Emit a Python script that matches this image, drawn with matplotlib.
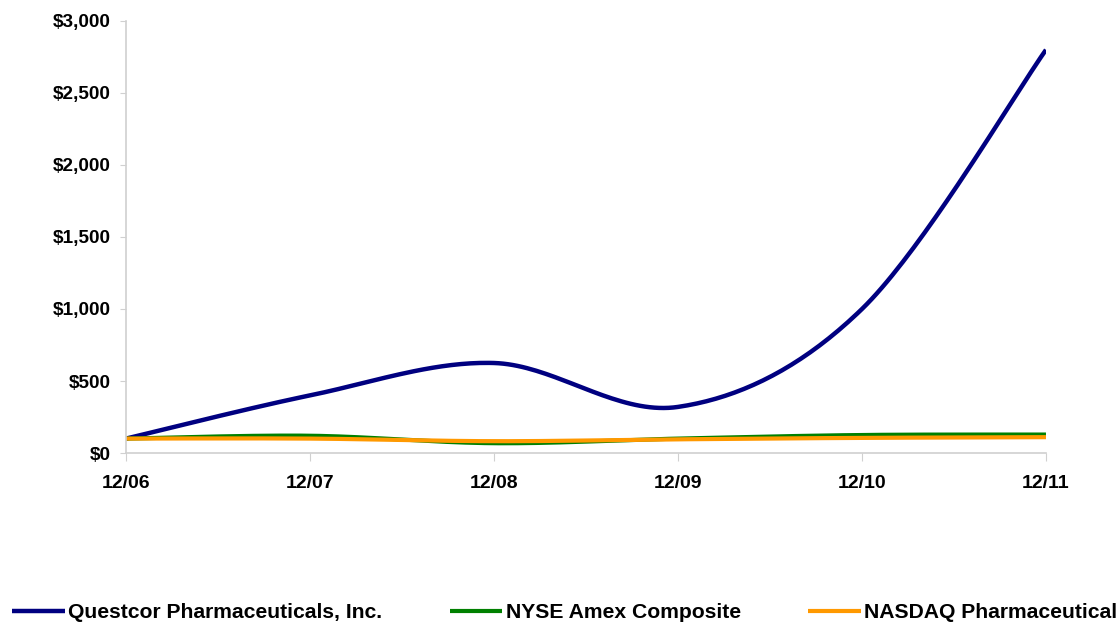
import numpy as np
import matplotlib.pyplot as plt

plt.rcParams['font.family'] = ['Liberation Sans', 'DejaVu Sans']

dates = ['12/06', '12/07', '12/08', '12/09', '12/10', '12/11']
questcor = [100, 400, 625, 320, 1000, 2800]
nyse = [100, 120, 68, 100, 125, 128]
nasdaq = [100, 100, 82, 95, 105, 110]

names = ['Questcor Pharmaceuticals, Inc.', 'NYSE Amex Composite', 'NASDAQ Pharmaceutical']
colors = ['#000080', '#008000', '#FF9900']


def smooth(x, y, n=40):
    # excel style smoothed line: bezier segments with catmull-rom tangents
    x = np.asarray(x, float)
    y = np.asarray(y, float)
    px = np.concatenate([[x[0]], x, [x[-1]]])
    py = np.concatenate([[y[0]], y, [y[-1]]])
    xs, ys = [], []
    t = np.linspace(0, 1, n)
    for i in range(len(x) - 1):
        p0 = np.array([px[i + 1], py[i + 1]])
        p3 = np.array([px[i + 2], py[i + 2]])
        p1 = p0 + (np.array([px[i + 2], py[i + 2]]) - np.array([px[i], py[i]])) / 6
        p2 = p3 - (np.array([px[i + 3], py[i + 3]]) - np.array([px[i + 1], py[i + 1]])) / 6
        b = ((1 - t) ** 3)[:, None] * p0 + (3 * (1 - t) ** 2 * t)[:, None] * p1 \
            + (3 * (1 - t) * t ** 2)[:, None] * p2 + (t ** 3)[:, None] * p3
        xs.extend(b[:, 0])
        ys.extend(b[:, 1])
    return np.array(xs), np.array(ys)


fig = plt.figure(figsize=(11.2, 6.25), dpi=100)
ax = fig.add_axes([0.1125, 0.2752, 0.8214, 0.6912])

xi = np.arange(len(dates))
lws = [3.2, 3.0, 3.0]
for vals, name, c, lw in zip([questcor, nyse, nasdaq], names, colors, lws):
    sx, sy = smooth(xi, vals)
    ax.plot(sx, sy, color=c, lw=lw, label=name, solid_capstyle='butt')

ax.set_xlim(0, len(dates) - 1)
ax.set_ylim(0, 3000)
ax.set_xticks(xi)
ax.set_xticklabels(dates)
ax.set_yticks(np.arange(0, 3001, 500))
ax.set_yticklabels(['${:,}'.format(v) for v in range(0, 3001, 500)])

for s in ['top', 'right']:
    ax.spines[s].set_visible(False)
for s in ['left', 'bottom']:
    ax.spines[s].set_color('#d0d0d0')
    ax.spines[s].set_linewidth(1.2)
ax.tick_params(axis='y', length=4, color='#d0d0d0', labelsize=13.7, pad=7)
ax.tick_params(axis='x', length=6, color='#d0d0d0', labelsize=14, pad=10)
for lab in ax.get_xticklabels() + ax.get_yticklabels():
    lab.set_fontweight('bold')

fig.legend(loc='center left', bbox_to_anchor=(0.0107, 0.02), ncol=3, frameon=False,
           borderaxespad=0, borderpad=0,
           handlelength=2.5, handletextpad=0.15, columnspacing=3.2,
           prop={'weight': 'bold', 'size': 15.2})

fig.savefig('out.png', dpi=100)
